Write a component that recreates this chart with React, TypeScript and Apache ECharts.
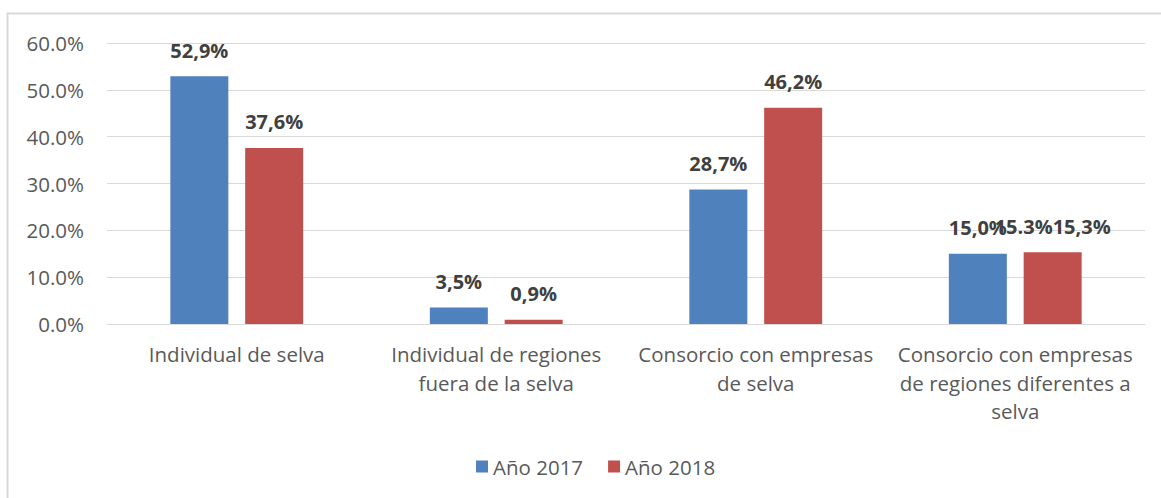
import React, { useEffect, useRef } from "react";
import * as echarts from "echarts";

const categories = [
  "Individual de selva",
  "Individual de regiones\nfuera de la selva",
  "Consorcio con empresas\nde selva",
  "Consorcio con empresas\nde regiones diferentes a\nselva",
];
const seriesNames = ["Año 2017", "Año 2018"];
const values2017 = [52.9, 3.5, 28.7, 15.0];
const values2018 = [37.6, 0.9, 46.2, 15.3];
const labels2017 = ["52,9%", "3,5%", "28,7%", "15,0%"];
const labels2018 = ["37,6%", "0,9%", "46,2%", "15.3%15,3%"];
const colors = ["#4f81bd", "#c0504d"];

const FONT = "'Open Sans', 'Liberation Sans', sans-serif";

export default function App() {
  const ref = useRef<HTMLDivElement>(null);
  useEffect(() => {
    if (!ref.current) return;
    const chart = echarts.init(ref.current, null, { renderer: "svg" });
    const labelStyle = (labels: string[]) => ({
      show: true,
      position: "top" as const,
      distance: 16,
      fontFamily: FONT,
      fontSize: 20,
      fontWeight: "bold" as const,
      color: "#404040",
      formatter: (p: any) => labels[p.dataIndex],
    });
    chart.setOption({
      animation: false,
      backgroundColor: "#ffffff",
      textStyle: { fontFamily: FONT },
      graphic: [
        {
          type: "rect",
          shape: { x: 7.5, y: 13.5, width: 1160, height: 490 },
          style: { fill: "none", stroke: "#d9d9d9", lineWidth: 2 },
          silent: true,
        },
      ],
      grid: { left: 107, right: 16, top: 43, bottom: 174, containLabel: false },
      legend: {
        top: 451,
        left: 471,
        itemWidth: 12,
        itemHeight: 12,
        itemGap: 25,
        icon: "rect",
        textStyle: { fontFamily: FONT, fontSize: 20.5, color: "#595959" },
        data: seriesNames,
      },
      xAxis: {
        type: "category",
        data: categories,
        axisTick: { show: false },
        axisLine: { lineStyle: { color: "#d9d9d9", width: 1 } },
        axisLabel: {
          interval: 0,
          margin: 16,
          fontFamily: FONT,
          fontSize: 20.5,
          lineHeight: 28.5,
          color: "#595959",
          align: "center",
        },
      },
      yAxis: {
        type: "value",
        min: 0,
        max: 60,
        interval: 10,
        axisLine: { show: false },
        axisTick: { show: false },
        splitLine: { lineStyle: { color: "#d9d9d9", width: 1 } },
        axisLabel: {
          margin: 23,
          fontFamily: FONT,
          fontSize: 20.5,
          color: "#595959",
          formatter: (v: number) => v.toFixed(1) + "%",
        },
      },
      series: [
        {
          name: seriesNames[0],
          type: "bar",
          data: values2017,
          barWidth: 58,
          barGap: "29%",
          itemStyle: { color: colors[0] },
          label: labelStyle(labels2017),
        },
        {
          name: seriesNames[1],
          type: "bar",
          data: values2018,
          barWidth: 58,
          barGap: "29%",
          itemStyle: { color: colors[1] },
          label: labelStyle(labels2018),
        },
      ],
    });
    return () => chart.dispose();
  }, []);
  return (
    <div
      ref={ref}
      style={{ position: "fixed", left: 0, top: 0, width: 1161, height: 498 }}
    />
  );
}
